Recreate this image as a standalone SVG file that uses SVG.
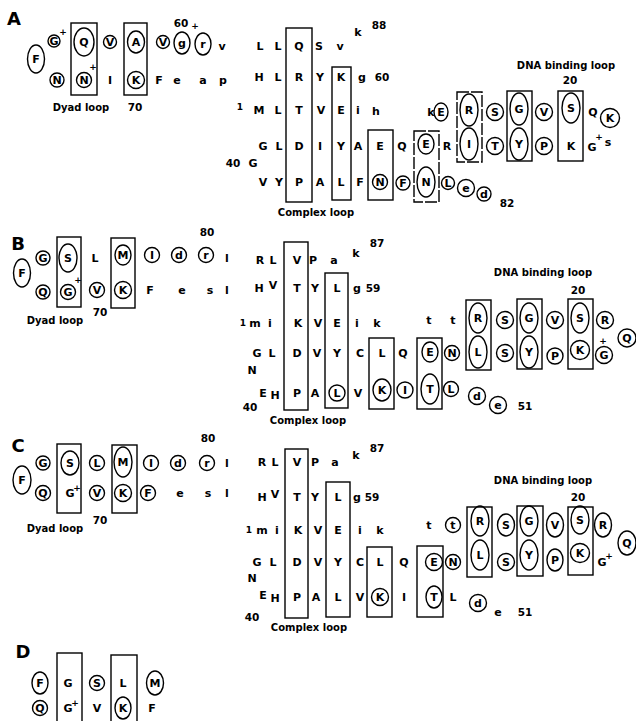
<svg xmlns="http://www.w3.org/2000/svg" width="636" height="721" viewBox="0 0 636 721">
<style>
text{font-family:"DejaVu Sans","Liberation Sans",Arial,sans-serif;font-weight:bold;fill:#000;text-anchor:middle;dominant-baseline:central}
.t{font-size:11px}
.s{font-size:9px}
.n{font-size:10.5px}
.p{font-size:18px;font-weight:900}
.l{font-size:10px}
ellipse,rect{fill:none;stroke:#000;stroke-width:1.4}
.d{stroke-dasharray:12 2}
</style>
<rect x="0" y="0" width="636" height="721" style="fill:#fff;stroke:none"/>

<g id="panel-A">
<text class="p" x="14" y="18">A</text>
<g id="A-boxes">
<rect x="71" y="23" width="26" height="72"/><rect x="124" y="23" width="23" height="72"/>
<rect x="286" y="28" width="26" height="174"/><rect x="332" y="67" width="19" height="133"/>
<rect x="368" y="130" width="25" height="70"/><rect class="d" x="414" y="131" width="25" height="71"/>
<rect class="d" x="457" y="92" width="25" height="70"/><rect x="507" y="91" width="25" height="70"/>
<rect x="558" y="91" width="25" height="70"/>
</g>
<g id="A-circles">
<ellipse cx="36" cy="59" rx="8.5" ry="14"/><ellipse cx="54" cy="41" rx="6" ry="6"/>
<ellipse cx="84" cy="42" rx="10" ry="14"/><ellipse cx="110" cy="42" rx="6.5" ry="6.5"/>
<ellipse cx="136" cy="42" rx="8.5" ry="11"/><ellipse cx="163" cy="42" rx="6.5" ry="6.5"/>
<ellipse cx="182" cy="43" rx="8" ry="11"/><ellipse cx="203" cy="44" rx="8" ry="11"/>
<ellipse cx="57" cy="80" rx="7" ry="7"/><ellipse cx="84" cy="80" rx="7.5" ry="7.5"/>
<ellipse cx="136" cy="80" rx="8.5" ry="8.5"/>
<ellipse cx="380" cy="182" rx="7.5" ry="7.5"/>
<ellipse cx="441" cy="112" rx="7" ry="9"/><ellipse cx="469" cy="110" rx="9" ry="16"/>
<ellipse cx="495" cy="112" rx="8.5" ry="8.5"/><ellipse cx="519" cy="109" rx="9" ry="16"/>
<ellipse cx="544" cy="112" rx="8.5" ry="8.5"/><ellipse cx="571" cy="108" rx="9" ry="15"/>
<ellipse cx="610" cy="118" rx="9.5" ry="9.5"/>
<ellipse cx="426" cy="144" rx="8" ry="10"/><ellipse cx="469" cy="144" rx="9" ry="16"/>
<ellipse cx="495" cy="146" rx="8.5" ry="8.5"/><ellipse cx="519" cy="144" rx="9" ry="16"/>
<ellipse cx="544" cy="146" rx="8.5" ry="8.5"/>
<ellipse cx="403" cy="183" rx="7" ry="7"/><ellipse cx="426" cy="182" rx="9" ry="15"/>
<ellipse cx="448" cy="183" rx="6.5" ry="6.5"/><ellipse cx="466" cy="188" rx="8.5" ry="8.5"/>
<ellipse cx="484" cy="194" rx="7" ry="7"/>
</g>
<g id="A-text">
<text class="t" x="36" y="59">F</text><text class="t" x="54" y="41">G</text><text class="s" x="63" y="32">+</text>
<text class="t" x="84" y="42">Q</text><text class="t" x="110" y="42">V</text><text class="t" x="136" y="42">A</text>
<text class="t" x="163" y="42">V</text><text class="t" x="182" y="43">g</text><text class="t" x="203" y="44">r</text>
<text class="n" x="181" y="23">60</text><text class="s" x="195" y="26">+</text><text class="t" x="222" y="46">v</text>
<text class="t" x="57" y="80">N</text><text class="t" x="84" y="80">N</text><text class="s" x="93" y="67">+</text>
<text class="t" x="110" y="80">I</text><text class="t" x="136" y="80">K</text><text class="t" x="159" y="80">F</text>
<text class="t" x="177" y="80">e</text><text class="t" x="203" y="80">a</text><text class="t" x="223" y="80">p</text>
<text class="l" x="81" y="107">Dyad loop</text><text class="n" x="135" y="107">70</text>
<text class="t" x="260" y="46">L</text><text class="t" x="278" y="46">L</text><text class="t" x="299" y="46">Q</text>
<text class="t" x="319" y="46">S</text><text class="t" x="340" y="46">v</text><text class="t" x="358" y="32">k</text>
<text class="n" x="379" y="25">88</text>
<text class="t" x="259" y="77">H</text><text class="t" x="278" y="77">L</text><text class="t" x="299" y="77">R</text>
<text class="t" x="320" y="77">Y</text><text class="t" x="341" y="77">K</text><text class="t" x="362" y="77">g</text>
<text class="n" x="382" y="77">60</text>
<text class="s" x="240" y="107">1</text><text class="t" x="259" y="110">M</text><text class="t" x="278" y="110">L</text>
<text class="t" x="299" y="110">T</text><text class="t" x="321" y="110">V</text><text class="t" x="341" y="110">E</text>
<text class="t" x="358" y="110">i</text><text class="t" x="376" y="111">h</text>
<text class="t" x="431" y="112">k</text><text class="t" x="441" y="112">E</text><text class="t" x="469" y="110">R</text>
<text class="t" x="495" y="112">S</text><text class="t" x="519" y="109">G</text><text class="t" x="544" y="112">V</text>
<text class="t" x="571" y="108">S</text><text class="t" x="593" y="112">Q</text><text class="t" x="610" y="118">K</text>
<text class="t" x="263" y="146">G</text><text class="t" x="279" y="146">L</text><text class="t" x="299" y="146">D</text>
<text class="t" x="320" y="146">I</text><text class="t" x="341" y="146">Y</text><text class="t" x="358" y="146">A</text>
<text class="t" x="380" y="146">E</text><text class="t" x="402" y="146">Q</text><text class="t" x="426" y="144">E</text>
<text class="t" x="447" y="146">R</text><text class="t" x="469" y="144">I</text><text class="t" x="495" y="146">T</text>
<text class="t" x="519" y="144">Y</text><text class="t" x="544" y="146">P</text><text class="t" x="571" y="146">K</text>
<text class="t" x="592" y="147">G</text><text class="s" x="599" y="137">+</text><text class="t" x="608" y="142">s</text>
<text class="n" x="233" y="163">40</text><text class="t" x="253" y="163">G</text>
<text class="t" x="263" y="182">V</text><text class="t" x="279" y="182">Y</text><text class="t" x="299" y="182">P</text>
<text class="t" x="320" y="182">A</text><text class="t" x="341" y="182">L</text><text class="t" x="360" y="182">F</text>
<text class="t" x="380" y="182">N</text><text class="t" x="403" y="183">F</text><text class="t" x="426" y="182">N</text>
<text class="t" x="448" y="183">L</text><text class="t" x="466" y="188">e</text><text class="t" x="484" y="194">d</text>
<text class="n" x="507" y="203">82</text>
<text class="l" x="316" y="212">Complex loop</text>
<text class="l" x="566" y="65">DNA binding loop</text><text class="n" x="570" y="80">20</text>
</g>
</g>

<g id="panel-B">
<text class="p" x="18" y="243">B</text>
<g id="B-boxes">
<rect x="57" y="237" width="24" height="70"/><rect x="111" y="238" width="24" height="70"/>
<rect x="284" y="242" width="24" height="168"/><rect x="325" y="273" width="23" height="135"/>
<rect x="369" y="338" width="25" height="71"/><rect x="417" y="338" width="25" height="71"/>
<rect x="466" y="300" width="25" height="70"/><rect x="517" y="299" width="25" height="70"/>
<rect x="568" y="299" width="25" height="70"/>
</g>
<g id="B-circles">
<ellipse cx="22" cy="273" rx="8.5" ry="14"/><ellipse cx="43" cy="258" rx="7" ry="7"/>
<ellipse cx="68" cy="258" rx="9" ry="14"/><ellipse cx="43" cy="292" rx="7" ry="7"/>
<ellipse cx="68" cy="292" rx="7.5" ry="7.5"/><ellipse cx="97" cy="290" rx="7.5" ry="7.5"/>
<ellipse cx="123" cy="255" rx="8" ry="10"/><ellipse cx="123" cy="290" rx="8.5" ry="8.5"/>
<ellipse cx="152" cy="255" rx="7.5" ry="7.5"/><ellipse cx="179" cy="255" rx="7.5" ry="7.5"/>
<ellipse cx="206" cy="255" rx="7.5" ry="7.5"/>
<ellipse cx="337" cy="393" rx="8" ry="8"/><ellipse cx="382" cy="390" rx="9" ry="11"/>
<ellipse cx="405" cy="390" rx="8" ry="8"/>
<ellipse cx="478" cy="318" rx="9" ry="15"/><ellipse cx="505" cy="320" rx="8.5" ry="8.5"/>
<ellipse cx="529" cy="318" rx="9" ry="15"/><ellipse cx="555" cy="320" rx="8.5" ry="8.5"/>
<ellipse cx="580" cy="318" rx="9" ry="15"/><ellipse cx="605" cy="320" rx="8.5" ry="8.5"/>
<ellipse cx="627" cy="338" rx="9" ry="9"/>
<ellipse cx="430" cy="352" rx="8" ry="10"/><ellipse cx="452" cy="353" rx="7.5" ry="7.5"/>
<ellipse cx="478" cy="352" rx="9" ry="16"/><ellipse cx="505" cy="353" rx="8.5" ry="8.5"/>
<ellipse cx="529" cy="352" rx="9" ry="16"/><ellipse cx="555" cy="356" rx="8" ry="8"/>
<ellipse cx="580" cy="350" rx="9.5" ry="9.5"/><ellipse cx="604" cy="355" rx="8.5" ry="8.5"/>
<ellipse cx="430" cy="389" rx="9" ry="15"/><ellipse cx="451" cy="389" rx="7.5" ry="7.5"/>
<ellipse cx="477" cy="396" rx="8.5" ry="8.5"/><ellipse cx="498" cy="405" rx="8.5" ry="8.5"/>
</g>
<g id="B-text">
<text class="t" x="22" y="273">F</text><text class="t" x="43" y="258">G</text><text class="t" x="68" y="258">S</text>
<text class="t" x="95" y="258">L</text><text class="t" x="123" y="255">M</text><text class="t" x="152" y="255">I</text>
<text class="t" x="179" y="255">d</text><text class="t" x="206" y="255">r</text><text class="t" x="227" y="258">l</text>
<text class="n" x="207" y="232">80</text>
<text class="t" x="43" y="292">Q</text><text class="t" x="68" y="292">G</text><text class="s" x="78" y="280">+</text>
<text class="t" x="97" y="290">V</text><text class="t" x="123" y="290">K</text><text class="t" x="150" y="290">F</text>
<text class="t" x="182" y="290">e</text><text class="t" x="210" y="290">s</text><text class="t" x="227" y="290">l</text>
<text class="l" x="55" y="320">Dyad loop</text><text class="n" x="100" y="312">70</text>
<text class="t" x="260" y="260">R</text><text class="t" x="273" y="260">L</text><text class="t" x="297" y="260">V</text>
<text class="t" x="313" y="260">P</text><text class="t" x="334" y="260">a</text><text class="t" x="356" y="253">k</text>
<text class="n" x="377" y="243">87</text>
<text class="t" x="259" y="288">H</text><text class="t" x="273" y="285">V</text><text class="t" x="297" y="288">T</text>
<text class="t" x="315" y="288">Y</text><text class="t" x="337" y="288">L</text><text class="t" x="357" y="288">g</text>
<text class="n" x="373" y="288">59</text>
<text class="s" x="243" y="323">1</text><text class="t" x="255" y="323">m</text><text class="t" x="270" y="323">i</text>
<text class="t" x="298" y="323">K</text><text class="t" x="318" y="323">V</text><text class="t" x="337" y="323">E</text>
<text class="t" x="357" y="323">i</text><text class="t" x="377" y="323">k</text>
<text class="t" x="429" y="320">t</text><text class="t" x="453" y="320">t</text><text class="t" x="478" y="318">R</text>
<text class="t" x="505" y="320">S</text><text class="t" x="529" y="318">G</text><text class="t" x="555" y="320">V</text>
<text class="t" x="580" y="318">S</text><text class="t" x="605" y="320">R</text><text class="t" x="627" y="338">Q</text>
<text class="t" x="257" y="353">G</text><text class="t" x="272" y="353">L</text><text class="t" x="297" y="353">D</text>
<text class="t" x="317" y="353">V</text><text class="t" x="337" y="353">Y</text><text class="t" x="360" y="353">C</text>
<text class="t" x="382" y="353">L</text><text class="t" x="403" y="353">Q</text><text class="t" x="430" y="352">E</text>
<text class="t" x="452" y="353">N</text><text class="t" x="478" y="352">L</text><text class="t" x="505" y="353">S</text>
<text class="t" x="529" y="352">Y</text><text class="t" x="555" y="356">P</text><text class="t" x="580" y="350">K</text>
<text class="t" x="604" y="355">G</text><text class="s" x="603" y="341">+</text>
<text class="t" x="252" y="370">N</text>
<text class="t" x="263" y="393">E</text><text class="t" x="275" y="395">H</text><text class="t" x="297" y="393">P</text>
<text class="t" x="315" y="393">A</text><text class="t" x="337" y="393">L</text><text class="t" x="358" y="393">V</text>
<text class="t" x="382" y="390">K</text><text class="t" x="405" y="390">I</text><text class="t" x="430" y="389">T</text>
<text class="t" x="451" y="389">L</text><text class="t" x="477" y="396">d</text><text class="t" x="498" y="405">e</text>
<text class="n" x="525" y="406">51</text>
<text class="n" x="250" y="407">40</text>
<text class="l" x="308" y="420">Complex loop</text>
<text class="l" x="543" y="272">DNA binding loop</text><text class="n" x="578" y="290">20</text>
</g>
</g>

<g id="panel-C">
<text class="p" x="18" y="445">C</text>
<g id="C-boxes">
<rect x="57" y="444" width="24" height="69"/><rect x="112" y="445" width="25" height="68"/>
<rect x="285" y="449" width="23" height="169"/><rect x="326" y="482" width="24" height="135"/>
<rect x="367" y="547" width="25" height="70"/><rect x="417" y="546" width="26" height="71"/>
<rect x="467" y="507" width="25" height="70"/><rect x="517" y="506" width="26" height="70"/>
<rect x="568" y="507" width="25" height="68"/>
</g>
<g id="C-circles">
<ellipse cx="22" cy="480" rx="9" ry="14"/><ellipse cx="43" cy="463" rx="7" ry="7"/>
<ellipse cx="70" cy="463" rx="9" ry="12"/><ellipse cx="97" cy="463" rx="7.5" ry="7.5"/>
<ellipse cx="123" cy="462" rx="9" ry="15"/><ellipse cx="151" cy="463" rx="7.5" ry="7.5"/>
<ellipse cx="178" cy="463" rx="7.5" ry="7.5"/><ellipse cx="207" cy="463" rx="7.5" ry="7.5"/>
<ellipse cx="43" cy="493" rx="7.5" ry="7.5"/><ellipse cx="97" cy="493" rx="7.5" ry="7.5"/>
<ellipse cx="123" cy="493" rx="8.5" ry="8.5"/><ellipse cx="148" cy="493" rx="7.5" ry="7.5"/>
<ellipse cx="380" cy="597" rx="8.5" ry="8.5"/>
<ellipse cx="453" cy="525" rx="7.5" ry="7.5"/><ellipse cx="480" cy="521" rx="9" ry="15"/>
<ellipse cx="506" cy="525" rx="8.5" ry="11"/><ellipse cx="529" cy="521" rx="9" ry="15"/>
<ellipse cx="555" cy="525" rx="8.5" ry="12"/><ellipse cx="580" cy="520" rx="9" ry="14"/>
<ellipse cx="603" cy="525" rx="8.5" ry="12"/><ellipse cx="627" cy="543" rx="9" ry="12"/>
<ellipse cx="434" cy="562" rx="8.5" ry="8.5"/><ellipse cx="453" cy="562" rx="7.5" ry="7.5"/>
<ellipse cx="480" cy="555" rx="9" ry="15"/><ellipse cx="506" cy="562" rx="8.5" ry="8.5"/>
<ellipse cx="529" cy="555" rx="9" ry="15"/><ellipse cx="555" cy="560" rx="8" ry="11"/>
<ellipse cx="580" cy="553" rx="9.5" ry="9.5"/>
<ellipse cx="434" cy="597" rx="8" ry="11"/><ellipse cx="478" cy="603" rx="8.5" ry="8.5"/>
</g>
<g id="C-text">
<text class="t" x="22" y="480">F</text><text class="t" x="43" y="463">G</text><text class="t" x="70" y="463">S</text>
<text class="t" x="97" y="463">L</text><text class="t" x="123" y="462">M</text><text class="t" x="151" y="463">I</text>
<text class="t" x="178" y="463">d</text><text class="t" x="207" y="463">r</text><text class="t" x="227" y="463">l</text>
<text class="n" x="208" y="438">80</text>
<text class="t" x="43" y="493">Q</text><text class="t" x="70" y="493">G</text><text class="s" x="77" y="488">+</text>
<text class="t" x="97" y="493">V</text><text class="t" x="123" y="493">K</text><text class="t" x="148" y="493">F</text>
<text class="t" x="180" y="493">e</text><text class="t" x="208" y="493">s</text><text class="t" x="227" y="493">l</text>
<text class="l" x="55" y="528">Dyad loop</text><text class="n" x="100" y="520">70</text>
<text class="t" x="262" y="462">R</text><text class="t" x="275" y="462">L</text><text class="t" x="297" y="462">V</text>
<text class="t" x="315" y="462">P</text><text class="t" x="335" y="462">a</text><text class="t" x="356" y="455">k</text>
<text class="n" x="377" y="448">87</text>
<text class="t" x="262" y="497">H</text><text class="t" x="275" y="494">V</text><text class="t" x="297" y="497">T</text>
<text class="t" x="315" y="497">Y</text><text class="t" x="338" y="497">L</text><text class="t" x="357" y="497">g</text>
<text class="n" x="372" y="497">59</text>
<text class="s" x="249" y="530">1</text><text class="t" x="262" y="530">m</text><text class="t" x="277" y="530">i</text>
<text class="t" x="298" y="530">K</text><text class="t" x="318" y="530">V</text><text class="t" x="338" y="530">E</text>
<text class="t" x="360" y="530">i</text><text class="t" x="380" y="530">k</text>
<text class="t" x="429" y="525">t</text><text class="t" x="453" y="525">t</text><text class="t" x="480" y="521">R</text>
<text class="t" x="506" y="525">S</text><text class="t" x="529" y="521">G</text><text class="t" x="555" y="525">V</text>
<text class="t" x="580" y="520">S</text><text class="t" x="603" y="525">R</text><text class="t" x="627" y="543">Q</text>
<text class="t" x="257" y="562">G</text><text class="t" x="273" y="562">L</text><text class="t" x="297" y="562">D</text>
<text class="t" x="318" y="562">V</text><text class="t" x="338" y="562">Y</text><text class="t" x="360" y="562">C</text>
<text class="t" x="380" y="562">L</text><text class="t" x="404" y="562">Q</text><text class="t" x="434" y="562">E</text>
<text class="t" x="453" y="562">N</text><text class="t" x="480" y="555">L</text><text class="t" x="506" y="562">S</text>
<text class="t" x="529" y="555">Y</text><text class="t" x="555" y="560">P</text><text class="t" x="580" y="553">K</text>
<text class="t" x="602" y="562">G</text><text class="s" x="609" y="556">+</text>
<text class="t" x="252" y="578">N</text>
<text class="t" x="263" y="595">E</text><text class="t" x="275" y="598">H</text><text class="t" x="297" y="597">P</text>
<text class="t" x="316" y="597">A</text><text class="t" x="338" y="597">L</text><text class="t" x="360" y="597">V</text>
<text class="t" x="380" y="597">K</text><text class="t" x="404" y="597">I</text><text class="t" x="434" y="597">T</text>
<text class="t" x="453" y="597">L</text><text class="t" x="478" y="603">d</text><text class="t" x="498" y="612">e</text>
<text class="n" x="525" y="612">51</text>
<text class="n" x="252" y="617">40</text>
<text class="l" x="309" y="627">Complex loop</text>
<text class="l" x="543" y="480">DNA binding loop</text><text class="n" x="578" y="497">20</text>
</g>
</g>

<g id="panel-D">
<text class="p" x="23" y="651">D</text>
<rect x="57" y="653" width="25" height="72"/><rect x="111" y="655" width="26" height="70"/>
<ellipse cx="40" cy="683" rx="8" ry="11"/><ellipse cx="97" cy="683" rx="7.5" ry="7.5"/>
<ellipse cx="155" cy="683" rx="8.5" ry="12"/><ellipse cx="40" cy="708" rx="7.5" ry="7.5"/>
<ellipse cx="123" cy="708" rx="8" ry="11"/>
<text class="t" x="40" y="683">F</text><text class="t" x="68" y="683">G</text><text class="t" x="97" y="683">S</text>
<text class="t" x="123" y="683">L</text><text class="t" x="155" y="683">M</text>
<text class="t" x="40" y="708">Q</text><text class="t" x="68" y="708">G</text><text class="s" x="75" y="703">+</text>
<text class="t" x="97" y="708">V</text><text class="t" x="123" y="708">K</text><text class="t" x="152" y="708">F</text>
</g>
</svg>
